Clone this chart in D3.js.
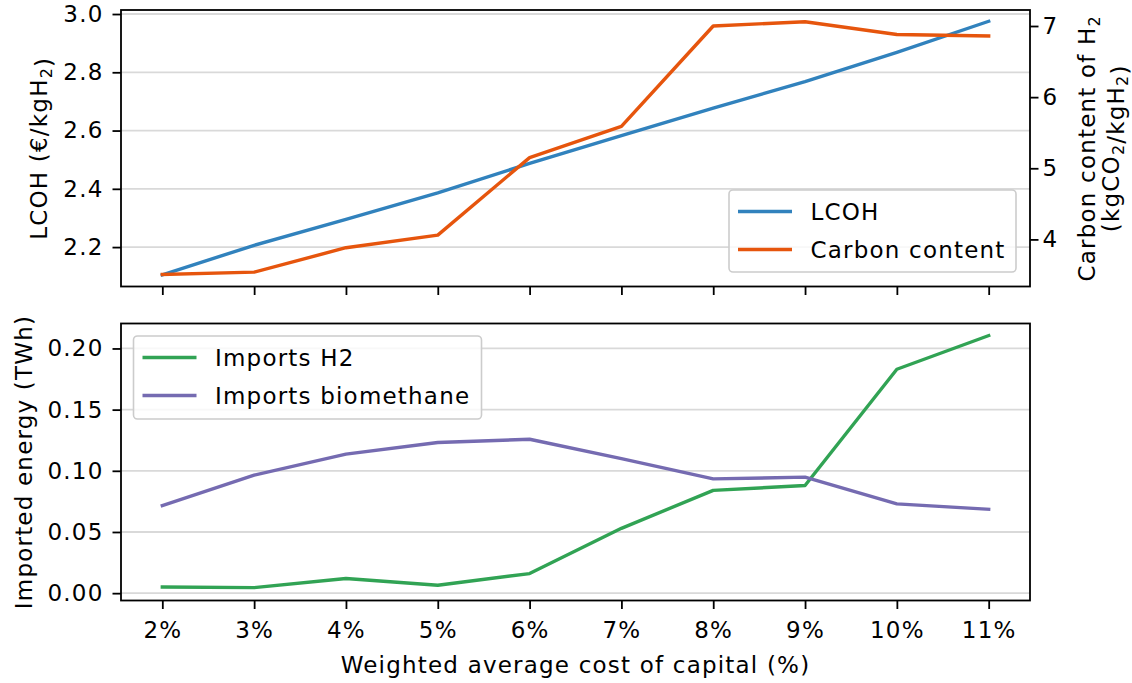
<!DOCTYPE html>
<html>
<head>
<meta charset="utf-8">
<script src="https://cdn.jsdelivr.net/npm/d3@7"></script>
<style>
  body { margin: 0; background: #fff; }
  svg { display: block; font-family: "DejaVu Sans", sans-serif; }
  svg text { letter-spacing: 1.2px; }
  .tick text { font-family: "DejaVu Sans", sans-serif; font-size: 23px; fill: #000; }
</style>
</head>
<body>
<svg id="chart" width="1132" height="683"></svg>
<script>
const wacc = ["2%", "3%", "4%", "5%", "6%", "7%", "8%", "9%", "10%", "11%"];
const lcoh = [2.105, 2.206, 2.295, 2.386, 2.487, 2.583, 2.677, 2.768, 2.868, 2.975];
const carbonContent = [3.507, 3.54, 3.883, 4.06, 5.15, 5.59, 7.0, 7.06, 6.88, 6.86];
const importsH2 = [0.005, 0.0045, 0.012, 0.0065, 0.016, 0.053, 0.084, 0.088, 0.183, 0.2105];
const importsBio = [0.0716, 0.0964, 0.1136, 0.1231, 0.1258, 0.110, 0.0934, 0.0948, 0.073, 0.0686];
const lcohTicks = [2.2, 2.4, 2.6, 2.8, 3.0];
const carbonTicks = [4, 5, 6, 7];
const importTicks = [0, 0.05, 0.10, 0.15, 0.20];

const colors = { lcoh: "#3182bd", carbon: "#e6550d", h2: "#31a354", bio: "#756bb1" };

const svg = d3.select("#chart");
const L = 121, R = 1030;
const top1 = 10, bot1 = 286.5, top2 = 323.5, bot2 = 600.5;
const FS = 23;

const x = d3.scalePoint().domain(wacc).range([L, R]).padding(0.45);
const yL = d3.scaleLinear().domain([2.0647, 3.0138]).range([bot1, top1]);
const yR = d3.scaleLinear().domain([3.338, 7.225]).range([bot1, top1]);
const yB = d3.scaleLinear().domain([-0.006, 0.2204]).range([bot2, top2]);

function styleAxis(g) {
  g.selectAll(".domain").remove();
  g.selectAll(".tick line").attr("stroke", "#000").attr("stroke-width", 1.8);
}

// grid lines
svg.append("g").selectAll("line").data(lcohTicks).join("line")
  .attr("x1", L).attr("x2", R).attr("y1", d => yL(d)).attr("y2", d => yL(d))
  .attr("stroke", "#d9d9d9").attr("stroke-width", 1.8);
svg.append("g").selectAll("line").data(importTicks).join("line")
  .attr("x1", L).attr("x2", R).attr("y1", d => yB(d)).attr("y2", d => yB(d))
  .attr("stroke", "#d9d9d9").attr("stroke-width", 1.8);

// lines
function drawLine(vals, yScale, color) {
  const line = d3.line().x((d, i) => x(wacc[i])).y(d => yScale(d));
  svg.append("path").datum(vals).attr("d", line).attr("fill", "none")
    .attr("stroke", color).attr("stroke-width", 3.4).attr("stroke-linejoin", "round").attr("stroke-linecap", "square");
}
drawLine(lcoh, yL, colors.lcoh);
drawLine(carbonContent, yR, colors.carbon);
drawLine(importsH2, yB, colors.h2);
drawLine(importsBio, yB, colors.bio);

// axes top panel
svg.append("g").attr("transform", `translate(${L},0)`)
  .call(d3.axisLeft(yL).tickValues(lcohTicks).tickFormat(d3.format(".1f")).tickSize(8.5).tickPadding(9))
  .call(styleAxis);
svg.append("g").attr("transform", `translate(${R},0)`)
  .call(d3.axisRight(yR).tickValues(carbonTicks).tickFormat(d3.format("d")).tickSize(8.5).tickPadding(4))
  .call(styleAxis);
svg.append("g").attr("transform", `translate(0,${bot1})`)
  .call(d3.axisBottom(x).tickSize(8.5).tickFormat(""))
  .call(styleAxis);

// axes bottom panel
svg.append("g").attr("transform", `translate(${L},0)`)
  .call(d3.axisLeft(yB).tickValues(importTicks).tickFormat(d3.format(".2f")).tickSize(8.5).tickPadding(9))
  .call(styleAxis);
svg.append("g").attr("transform", `translate(0,${bot2})`)
  .call(d3.axisBottom(x).tickSize(8.5).tickPadding(12.5))
  .call(styleAxis);

// frames
svg.append("rect").attr("x", L).attr("y", top1).attr("width", R - L).attr("height", bot1 - top1)
  .attr("fill", "none").attr("stroke", "#000").attr("stroke-width", 1.8);
svg.append("rect").attr("x", L).attr("y", top2).attr("width", R - L).attr("height", bot2 - top2)
  .attr("fill", "none").attr("stroke", "#000").attr("stroke-width", 1.8);

// legends
function legend(x0, y0, w, h, items) {
  const g = svg.append("g");
  g.append("rect").attr("x", x0).attr("y", y0).attr("width", w).attr("height", h)
    .attr("rx", 4).attr("fill", "#fff").attr("fill-opacity", 0.8)
    .attr("stroke", "#cccccc").attr("stroke-width", 1.6);
  items.forEach((it, i) => {
    const yy = y0 + 21.5 + i * 38;
    g.append("line").attr("x1", x0 + 9).attr("x2", x0 + 63).attr("y1", yy).attr("y2", yy)
      .attr("stroke", it.color).attr("stroke-width", 3.4);
    g.append("text").attr("x", x0 + 81.5).attr("y", yy).attr("dy", "0.36em")
      .attr("font-size", FS).text(it.label);
  });
}
legend(729, 190, 287, 82, [
  { label: "LCOH", color: colors.lcoh },
  { label: "Carbon content", color: colors.carbon }
]);
legend(133.5, 336, 348, 83, [
  { label: "Imports H2", color: colors.h2 },
  { label: "Imports biomethane", color: colors.bio }
]);

// axis labels
function subLabel(g, parts) {
  parts.forEach(p => {
    if (p.sub) {
      g.append("tspan").attr("font-size", 16).attr("dy", 4.5).text(p.t);
      g.append("tspan").attr("dy", -4.5).text("");
    } else {
      g.append("tspan").text(p.t);
    }
  });
}
const midTop = (top1 + bot1) / 2;
const ly = svg.append("text").attr("transform", `translate(47,${midTop}) rotate(-90)`)
  .attr("text-anchor", "middle").attr("font-size", FS);
subLabel(ly, [{ t: "LCOH (€/kgH" }, { t: "2", sub: true }, { t: ")" }]);

const r1 = svg.append("text").attr("transform", `translate(1095,${midTop}) rotate(-90)`)
  .attr("text-anchor", "middle").attr("font-size", FS);
subLabel(r1, [{ t: "Carbon content of H" }, { t: "2", sub: true }]);
const r2 = svg.append("text").attr("transform", `translate(1119,${midTop}) rotate(-90)`)
  .attr("text-anchor", "middle").attr("font-size", FS);
subLabel(r2, [{ t: "(kgCO" }, { t: "2", sub: true }, { t: "/kgH" }, { t: "2", sub: true }, { t: ")" }]);

svg.append("text").attr("transform", `translate(31.5,${(top2 + bot2) / 2}) rotate(-90)`)
  .attr("text-anchor", "middle").attr("font-size", FS).text("Imported energy (TWh)");

svg.append("text").attr("x", (L + R) / 2).attr("y", 673).attr("text-anchor", "middle")
  .attr("font-size", FS).text("Weighted average cost of capital (%)");
</script>
</body>
</html>
